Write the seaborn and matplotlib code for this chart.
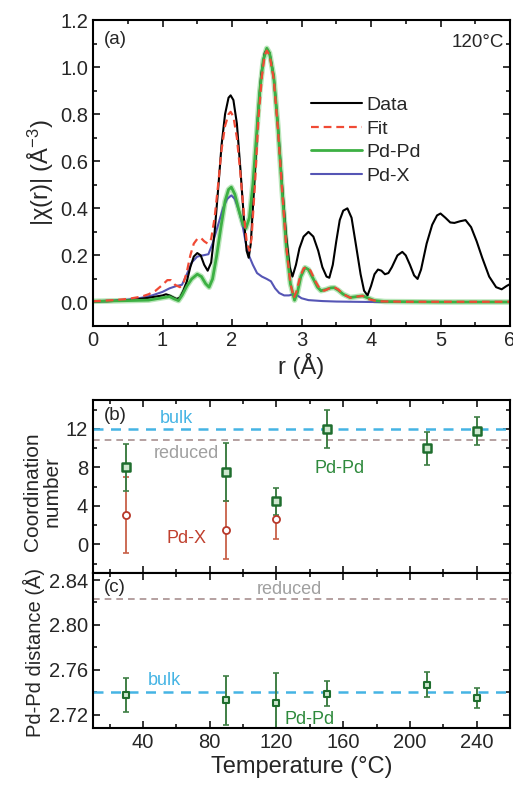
import numpy as np
import pandas as pd
import seaborn as sns
import matplotlib.pyplot as plt
from matplotlib.ticker import MultipleLocator

# ---- panel (a): Fourier transform magnitude ----
r_data = [0.0, 0.2, 0.4, 0.6, 0.8, 0.9, 1.0, 1.05, 1.1, 1.2, 1.25, 1.3, 1.35, 1.4, 1.45, 1.5,
          1.55, 1.6, 1.65, 1.7, 1.75, 1.8, 1.85, 1.9, 1.95, 1.98, 2.02, 2.07, 2.12, 2.17, 2.21,
          2.24, 2.27, 2.32, 2.37, 2.42, 2.47, 2.5, 2.54, 2.6, 2.66, 2.72, 2.78, 2.83, 2.87, 2.92,
          2.97, 3.03, 3.1, 3.17, 3.24, 3.3, 3.36, 3.4, 3.45, 3.5, 3.55, 3.6, 3.66, 3.72, 3.78,
          3.85, 3.9, 3.95, 4.0, 4.05, 4.1, 4.15, 4.2, 4.25, 4.3, 4.38, 4.45, 4.5, 4.56, 4.62,
          4.67, 4.72, 4.8, 4.88, 4.95, 5.0, 5.07, 5.14, 5.2, 5.28, 5.36, 5.44, 5.52, 5.6, 5.7,
          5.8, 5.88, 5.95, 6.0]
chi_data = [0.005, 0.005, 0.008, 0.012, 0.02, 0.025, 0.03, 0.035, 0.03, 0.015, 0.02, 0.05, 0.09,
            0.15, 0.195, 0.21, 0.2, 0.16, 0.135, 0.17, 0.3, 0.48, 0.67, 0.8, 0.87, 0.88, 0.86,
            0.76, 0.57, 0.36, 0.22, 0.19, 0.25, 0.5, 0.78, 0.97, 1.06, 1.075, 1.06, 0.96, 0.75,
            0.5, 0.28, 0.15, 0.11, 0.16, 0.23, 0.28, 0.30, 0.28, 0.22, 0.15, 0.11, 0.105, 0.16,
            0.26, 0.35, 0.39, 0.40, 0.36, 0.25, 0.12, 0.05, 0.03, 0.07, 0.12, 0.14, 0.135, 0.12,
            0.125, 0.15, 0.2, 0.215, 0.2, 0.16, 0.115, 0.1, 0.14, 0.25, 0.33, 0.37, 0.378, 0.36,
            0.34, 0.338, 0.345, 0.35, 0.32, 0.26, 0.19, 0.11, 0.065, 0.056, 0.07, 0.078]

r_fit = [0.0, 0.3, 0.5, 0.7, 0.8, 0.9, 1.0, 1.07, 1.12, 1.18, 1.25, 1.3, 1.35, 1.4, 1.45, 1.5,
         1.55, 1.6, 1.65, 1.7, 1.75, 1.8, 1.85, 1.9, 1.95, 1.98, 2.02, 2.07, 2.12, 2.17, 2.21,
         2.25, 2.28, 2.33, 2.38, 2.43, 2.47, 2.5, 2.54, 2.6, 2.66, 2.72, 2.78, 2.84, 2.89, 2.93,
         2.98, 3.03, 3.08, 3.13, 3.2, 3.27, 3.33, 3.4, 3.47, 3.53, 3.6, 3.7, 3.8, 3.88, 3.95,
         4.1, 4.5, 5.0, 5.5, 6.0]
chi_fit = [0.005, 0.01, 0.015, 0.025, 0.035, 0.05, 0.075, 0.095, 0.095, 0.075, 0.065, 0.08, 0.13,
           0.2, 0.25, 0.27, 0.275, 0.26, 0.25, 0.27, 0.36, 0.5, 0.65, 0.75, 0.8, 0.81, 0.79, 0.7,
           0.55, 0.38, 0.26, 0.22, 0.27, 0.5, 0.78, 0.96, 1.05, 1.07, 1.05, 0.95, 0.74, 0.48,
           0.24, 0.08, 0.02, 0.05, 0.11, 0.145, 0.15, 0.135, 0.09, 0.055, 0.05, 0.06, 0.065,
           0.055, 0.035, 0.02, 0.025, 0.028, 0.015, 0.005, 0.003, 0.003, 0.003, 0.003]

r_pdpd = [0.0, 0.5, 0.8, 1.0, 1.1, 1.17, 1.23, 1.28, 1.35, 1.42, 1.5, 1.56, 1.62, 1.67, 1.72,
          1.78, 1.84, 1.9, 1.95, 1.99, 2.04, 2.1, 2.16, 2.2, 2.25, 2.3, 2.35, 2.4, 2.45, 2.5,
          2.54, 2.6, 2.66, 2.72, 2.78, 2.84, 2.9, 2.94, 2.99, 3.05, 3.1, 3.17, 3.23, 3.28, 3.35,
          3.42, 3.47, 3.53, 3.6, 3.7, 3.8, 3.88, 3.95, 4.05, 4.2, 5.0, 6.0]
chi_pdpd = [0.005, 0.008, 0.01, 0.02, 0.025, 0.015, 0.008, 0.03, 0.07, 0.1, 0.12, 0.11, 0.08,
            0.065, 0.1, 0.2, 0.32, 0.43, 0.48, 0.49, 0.46, 0.39, 0.33, 0.315, 0.36, 0.5, 0.7,
            0.9, 1.03, 1.08, 1.06, 0.96, 0.75, 0.48, 0.24, 0.08, 0.01, 0.04, 0.11, 0.148, 0.14,
            0.1, 0.065, 0.05, 0.055, 0.062, 0.063, 0.052, 0.035, 0.021, 0.025, 0.028, 0.02,
            0.008, 0.004, 0.002, 0.002]

r_pdx = [0.0, 0.3, 0.5, 0.7, 0.85, 1.0, 1.1, 1.2, 1.28, 1.35, 1.42, 1.5, 1.58, 1.66, 1.72, 1.8,
         1.87, 1.93, 1.99, 2.04, 2.1, 2.15, 2.2, 2.25, 2.3, 2.36, 2.43, 2.5, 2.56, 2.62, 2.68,
         2.75, 2.82, 2.88, 2.94, 3.0, 3.1, 3.3, 3.5, 4.0, 5.0, 6.0]
chi_pdx = [0.005, 0.008, 0.012, 0.02, 0.03, 0.045, 0.06, 0.07, 0.075, 0.12, 0.17, 0.195, 0.2,
           0.205, 0.25, 0.33, 0.4, 0.44, 0.455, 0.44, 0.39, 0.33, 0.25, 0.195, 0.16, 0.125,
           0.11, 0.1, 0.09, 0.06, 0.04, 0.03, 0.03, 0.035, 0.03, 0.018, 0.01, 0.006, 0.004,
           0.002, 0.002, 0.002]

# ---- panels (b) and (c): fit results vs temperature ----
temps_pdpd = [30, 90, 120, 150, 210, 240]
cn_pdpd = [8.0, 7.5, 4.5, 12.0, 10.0, 11.8]
cn_pdpd_err = [2.4, 3.0, 1.4, 1.95, 1.7, 1.45]

temps_pdx = [30, 90, 120]
cn_pdx = [3.1, 1.5, 2.6]
cn_pdx_err = [3.95, 3.0, 2.05]

dist_pdpd = [2.738, 2.733, 2.731, 2.739, 2.747, 2.735]
dist_pdpd_err = [0.015, 0.022, 0.026, 0.011, 0.011, 0.009]

cn_bulk, cn_reduced = 12.0, 10.8
dist_bulk, dist_reduced = 2.740, 2.823

sns.set_style("ticks")
plt.rcParams['font.family'] = ['Liberation Sans', 'DejaVu Sans']
plt.rcParams['mathtext.default'] = 'regular'
plt.rcParams['axes.linewidth'] = 1.5
plt.rcParams['xtick.direction'] = 'in'
plt.rcParams['ytick.direction'] = 'in'

c_data, c_fit, c_pdpd, c_pdx = 'black', '#f04a35', '#3cb043', '#5555b5'
c_green_pt, c_red_pt = '#1f6e2e', '#b8382a'
c_bulk, c_red_line = '#45b4e4', '#a89090'

fig = plt.figure(figsize=(5.13, 8.02), dpi=100)
ax_a = fig.add_axes([0.1813, 0.5935, 0.8129, 0.3815])
ax_b = fig.add_axes([0.1813, 0.2852, 0.8129, 0.2160])
ax_c = fig.add_axes([0.1813, 0.0918, 0.8129, 0.1934])

# panel (a)
sns.lineplot(x=r_pdpd, y=chi_pdpd, ax=ax_a, color='#a8e0a8', lw=4.0, sort=False, alpha=0.8)
sns.lineplot(x=r_pdx, y=chi_pdx, ax=ax_a, color=c_pdx, lw=1.5, sort=False, label='Pd-X')
sns.lineplot(x=r_data, y=chi_data, ax=ax_a, color=c_data, lw=1.5, sort=False, label='Data')
sns.lineplot(x=r_pdpd, y=chi_pdpd, ax=ax_a, color=c_pdpd, lw=2.0, sort=False, label='Pd-Pd')
sns.lineplot(x=r_fit, y=chi_fit, ax=ax_a, color=c_fit, lw=1.6, sort=False, label='Fit',
             linestyle=(0, (3.5, 2.2)))
h, l = ax_a.get_legend_handles_labels()
order = [l.index(k) for k in ['Data', 'Fit', 'Pd-Pd', 'Pd-X']]
ax_a.legend([h[i] for i in order], [l[i] for i in order], loc='upper left',
            bbox_to_anchor=(0.505, 0.775), frameon=False, fontsize=14, handlelength=2.6,
            handletextpad=0.25, labelspacing=0.3, borderaxespad=0)
ax_a.set_xlim(0, 6)
ax_a.set_ylim(-0.1, 1.2)
ax_a.xaxis.set_major_locator(MultipleLocator(1))
ax_a.xaxis.set_minor_locator(MultipleLocator(0.5))
ax_a.yaxis.set_major_locator(MultipleLocator(0.2))
ax_a.yaxis.set_minor_locator(MultipleLocator(0.1))
ax_a.yaxis.set_major_formatter(plt.FuncFormatter(lambda v, p: f'{v:.1f}'))
ax_a.set_xlabel('r (Å)', fontsize=17, labelpad=2)
ax_a.set_ylabel('|χ(r)| (Å$^{-3}$)', fontsize=17, labelpad=3)
ax_a.text(0.025, 0.965, '(a)', transform=ax_a.transAxes, fontsize=13.5, va='top')
ax_a.text(0.985, 0.955, '120°C', transform=ax_a.transAxes, fontsize=13.5, va='top', ha='right')

# panel (b)
ax_b.axhline(cn_bulk, color=c_bulk, lw=1.8, ls=(0, (4, 3)))
ax_b.axhline(cn_reduced, color=c_red_line, lw=1.2, ls=(0, (4, 3)))
ax_b.errorbar(temps_pdx, cn_pdx, yerr=cn_pdx_err, fmt='none', ecolor='#c86048', elinewidth=1.3,
              capsize=2.5, capthick=1.2)
ax_b.errorbar(temps_pdpd, cn_pdpd, yerr=cn_pdpd_err, fmt='none', ecolor='#3f7f45', elinewidth=1.4,
              capsize=2.5, capthick=1.2)
sns.scatterplot(x=temps_pdx, y=cn_pdx, ax=ax_b, marker='o', s=26, facecolor='white',
                edgecolor=c_red_pt, linewidth=1.3, zorder=5)
sns.scatterplot(x=temps_pdpd, y=cn_pdpd, ax=ax_b, marker='s', s=34, facecolor='#cfe8cf',
                edgecolor=c_green_pt, linewidth=1.8, zorder=5)
ax_b.set_xlim(10, 260)
ax_b.set_ylim(-3, 15)
ax_b.xaxis.set_major_locator(MultipleLocator(40))
ax_b.xaxis.set_minor_locator(MultipleLocator(20))
ax_b.yaxis.set_major_locator(MultipleLocator(4))
ax_b.yaxis.set_minor_locator(MultipleLocator(2))
ax_b.tick_params(axis='x', labelbottom=False)
ax_b.set_ylabel('Coordination\nnumber', fontsize=15, linespacing=1.05)
ax_b.yaxis.set_label_coords(-0.075, 0.47)
ax_b.text(0.025, 0.96, '(b)', transform=ax_b.transAxes, fontsize=13.5, va='top')
ax_b.text(60, 12.2, 'bulk', color=c_bulk, fontsize=13, ha='center', va='bottom')
ax_b.text(66, 9.4, 'reduced', color='#a0a0a0', fontsize=13, ha='center', va='center')
ax_b.text(158, 7.9, 'Pd-Pd', color='#2e8a3c', fontsize=13, ha='center', va='center')
ax_b.text(66, 0.6, 'Pd-X', color='#c0402e', fontsize=13, ha='center', va='center')

# panel (c)
ax_c.axhline(dist_bulk, color=c_bulk, lw=1.8, ls=(0, (4, 3)))
ax_c.axhline(dist_reduced, color=c_red_line, lw=1.2, ls=(0, (4, 3)))
ax_c.errorbar(temps_pdpd, dist_pdpd, yerr=dist_pdpd_err, fmt='none', ecolor='#3f7f45',
              elinewidth=1.4, capsize=2.5, capthick=1.2)
sns.scatterplot(x=temps_pdpd, y=dist_pdpd, ax=ax_c, marker='s', s=24, facecolor='#cfe8cf',
                edgecolor=c_green_pt, linewidth=1.5, zorder=5)
ax_c.set_xlim(10, 260)
ax_c.set_ylim(2.708, 2.846)
ax_c.xaxis.set_major_locator(MultipleLocator(40))
ax_c.xaxis.set_minor_locator(MultipleLocator(20))
ax_c.yaxis.set_major_locator(MultipleLocator(0.04))
ax_c.yaxis.set_minor_locator(MultipleLocator(0.02))
ax_c.yaxis.set_major_formatter(plt.FuncFormatter(lambda v, p: f'{v:.2f}'))
ax_c.set_xticks([40, 80, 120, 160, 200, 240])
ax_c.set_xlabel('Temperature (°C)', fontsize=17, labelpad=3)
ax_c.set_ylabel('Pd-Pd distance (Å)', fontsize=14.5)
ax_c.yaxis.set_label_coords(-0.115, 0.49)
ax_c.text(0.025, 0.965, '(c)', transform=ax_c.transAxes, fontsize=13.5, va='top')
ax_c.text(128, 2.832, 'reduced', color='#a0a0a0', fontsize=13, ha='center', va='center')
ax_c.text(53, 2.7505, 'bulk', color=c_bulk, fontsize=13, ha='center', va='center')
ax_c.text(140, 2.716, 'Pd-Pd', color='#2e8a3c', fontsize=13, ha='center', va='center')

for ax in (ax_a, ax_b, ax_c):
    ax.tick_params(which='both', top=True, right=True, labelsize=14.5, width=1.3)
    ax.tick_params(which='major', length=5)
    ax.tick_params(which='minor', length=3)
    for s in ax.spines.values():
        s.set_linewidth(1.5)
        s.set_color('black')
    ax.grid(False)

fig.savefig('out.png', dpi=100)
